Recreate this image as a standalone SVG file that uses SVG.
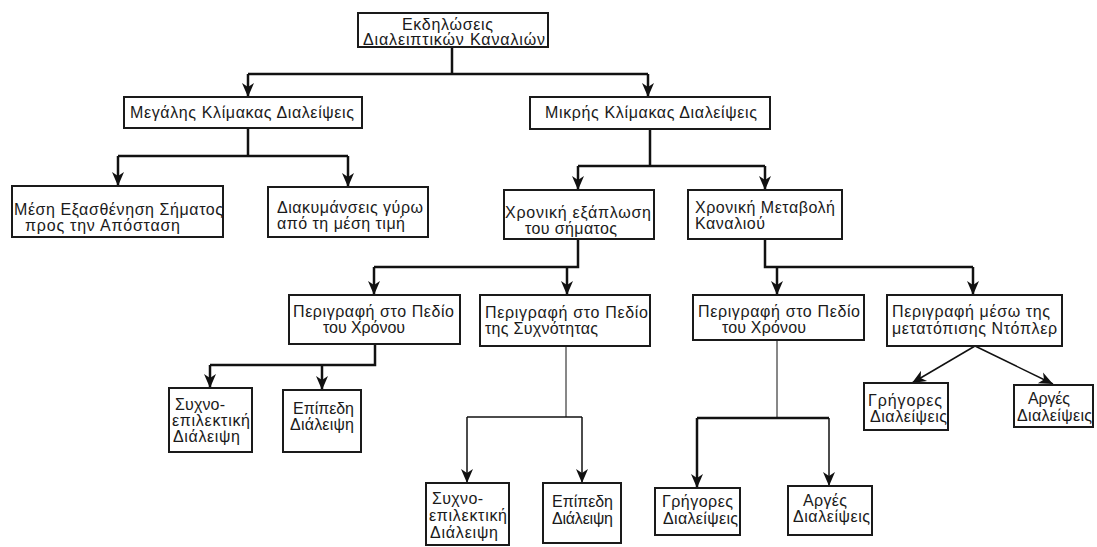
<svg xmlns="http://www.w3.org/2000/svg" width="1097" height="547" viewBox="0 0 1097 547">
  <style>
    .box { fill: #ffffff; stroke: #1a1a1a; stroke-width: 2; }
    .lbl { font-family: "Liberation Sans", Arial, sans-serif; font-size: 16px; fill: #1a1a1a; }
    .wire { fill: none; stroke: #111111; stroke-width: 2.5; }
    .thin { fill: none; stroke: #111111; stroke-width: 1.5; }
    .hair { fill: none; stroke: #111111; stroke-width: 1; }
  </style>
  <defs>
    <marker id="arr" viewBox="-1 -7 16 14" markerWidth="16" markerHeight="14" refX="14" refY="0" orient="auto" markerUnits="userSpaceOnUse">
      <path d="M0,-6 L14,0 L0,6 L4,0 z" fill="#111111"/>
    </marker>
  </defs>
  <rect width="1097" height="547" fill="#ffffff"/>

  <!-- connectors -->
  <g id="connectors">
    <!-- root -->
    <path class="wire" d="M452,47 V74 M248,74 H648"/>
    <path class="wire" d="M248,74 V97" marker-end="url(#arr)"/>
    <path class="wire" d="M648,74 V97" marker-end="url(#arr)"/>
    <!-- large scale -->
    <path class="wire" d="M248,128 V156 M118,156 H348"/>
    <path class="wire" d="M118,156 V186" marker-end="url(#arr)"/>
    <path class="wire" d="M348,156 V187" marker-end="url(#arr)"/>
    <!-- small scale -->
    <path class="wire" d="M650,129 V166 M578,166 H765"/>
    <path class="wire" d="M578,166 V190" marker-end="url(#arr)"/>
    <path class="wire" d="M765,166 V190" marker-end="url(#arr)"/>
    <!-- time spread -->
    <path class="wire" d="M578,239 V267 H374"/>
    <path class="wire" d="M374,267 V295" marker-end="url(#arr)"/>
    <path class="wire" d="M567,267 V295" marker-end="url(#arr)"/>
    <!-- channel variation -->
    <path class="wire" d="M765,239 V267 H973"/>
    <path class="wire" d="M777,267 V295" marker-end="url(#arr)"/>
    <path class="wire" d="M973,267 V295" marker-end="url(#arr)"/>
    <!-- time domain (left) -->
    <path class="wire" d="M375,344 V365 H210"/>
    <path class="wire" d="M210,365 V388" marker-end="url(#arr)"/>
    <path class="wire" d="M322,365 V390" marker-end="url(#arr)"/>
    <!-- frequency domain -->
    <path class="hair" d="M566,346 V417"/>
    <path class="thin" d="M467,417 H582"/>
    <path class="thin" d="M467,417 V483" marker-end="url(#arr)"/>
    <path class="thin" d="M582,417 V483" marker-end="url(#arr)"/>
    <!-- time domain (right) -->
    <path class="hair" d="M777,340 V418"/>
    <path class="wire" d="M697,418 H829"/>
    <path class="wire" d="M697,418 V488" marker-end="url(#arr)"/>
    <path class="thin" d="M829,418 V486" marker-end="url(#arr)"/>
    <!-- Doppler -->
    <path class="thin" d="M975,346 L912,383" marker-end="url(#arr)"/>
    <path class="thin" d="M975,346 L1053,384" marker-end="url(#arr)"/>
  </g>

  <g id="root">
    <rect class="box" x="358" y="13" width="190" height="34"/>
    <text class="lbl" x="402" y="30" textLength="91" lengthAdjust="spacing">Εκδηλώσεις</text>
    <text class="lbl" x="363" y="45" textLength="182" lengthAdjust="spacing">Διαλειπτικών Καναλιών</text>
  </g>

  <g id="large-scale">
    <rect class="box" x="124" y="97" width="238" height="31"/>
    <text class="lbl" x="130" y="118" textLength="224" lengthAdjust="spacing">Μεγάλης Κλίμακας Διαλείψεις</text>
  </g>

  <g id="small-scale">
    <rect class="box" x="530" y="97" width="240" height="32"/>
    <text class="lbl" x="545" y="118" textLength="212" lengthAdjust="spacing">Μικρής Κλίμακας Διαλείψεις</text>
  </g>

  <g id="mean-attenuation">
    <rect class="box" x="12" y="186" width="211" height="51"/>
    <text class="lbl" x="14" y="215" textLength="209" lengthAdjust="spacing">Μέση Εξασθένηση Σήματος</text>
    <text class="lbl" x="25" y="231" textLength="155" lengthAdjust="spacing">προς την  Απόσταση</text>
  </g>

  <g id="fluctuations">
    <rect class="box" x="268" y="187" width="160" height="50"/>
    <text class="lbl" x="277" y="213" textLength="146" lengthAdjust="spacing">Διακυμάνσεις γύρω</text>
    <text class="lbl" x="277" y="229" textLength="128" lengthAdjust="spacing">από τη μέση τιμή</text>
  </g>

  <g id="time-spread">
    <rect class="box" x="504" y="190" width="150" height="49"/>
    <text class="lbl" x="505" y="218" textLength="146" lengthAdjust="spacing">Χρονική εξάπλωση</text>
    <text class="lbl" x="525" y="234" textLength="92" lengthAdjust="spacing">του σήματος</text>
  </g>

  <g id="channel-variation">
    <rect class="box" x="688" y="190" width="154" height="49"/>
    <text class="lbl" x="695" y="213" textLength="140" lengthAdjust="spacing">Χρονική Μεταβολή</text>
    <text class="lbl" x="695" y="229" textLength="70" lengthAdjust="spacing">Καναλιού</text>
  </g>

  <g id="time-domain-a">
    <rect class="box" x="289" y="295" width="171" height="49"/>
    <text class="lbl" x="293" y="317" textLength="161" lengthAdjust="spacing">Περιγραφή στο Πεδίο</text>
    <text class="lbl" x="323" y="333" textLength="82" lengthAdjust="spacing">του Χρόνου</text>
  </g>

  <g id="frequency-domain">
    <rect class="box" x="480" y="295" width="170" height="51"/>
    <text class="lbl" x="485" y="318" textLength="163" lengthAdjust="spacing">Περιγραφή στο Πεδίο</text>
    <text class="lbl" x="485" y="334" textLength="113" lengthAdjust="spacing">της Συχνότητας</text>
  </g>

  <g id="time-domain-b">
    <rect class="box" x="693" y="295" width="171" height="45"/>
    <text class="lbl" x="698" y="317" textLength="162" lengthAdjust="spacing">Περιγραφή στο Πεδίο</text>
    <text class="lbl" x="722" y="333" textLength="84" lengthAdjust="spacing">του Χρόνου</text>
  </g>

  <g id="doppler">
    <rect class="box" x="887" y="295" width="175" height="51"/>
    <text class="lbl" x="892" y="317" textLength="158" lengthAdjust="spacing">Περιγραφή μέσω της</text>
    <text class="lbl" x="892" y="334" textLength="165" lengthAdjust="spacing">μετατόπισης Ντόπλερ</text>
  </g>

  <g id="selective-a">
    <rect class="box" x="169" y="388" width="83" height="64"/>
    <text class="lbl" x="175" y="410" textLength="50" lengthAdjust="spacing">Συχνο-</text>
    <text class="lbl" x="172" y="426" textLength="78" lengthAdjust="spacing">επιλεκτική</text>
    <text class="lbl" x="173" y="442" textLength="67" lengthAdjust="spacing">Διάλειψη</text>
  </g>

  <g id="flat-a">
    <rect class="box" x="283" y="390" width="78" height="62"/>
    <text class="lbl" x="293" y="414" textLength="61" lengthAdjust="spacing">Επίπεδη</text>
    <text class="lbl" x="290" y="430" textLength="64" lengthAdjust="spacing">Διάλειψη</text>
  </g>

  <g id="selective-b">
    <rect class="box" x="426" y="483" width="83" height="62"/>
    <text class="lbl" x="432" y="504" textLength="51" lengthAdjust="spacing">Συχνο-</text>
    <text class="lbl" x="429" y="521" textLength="78" lengthAdjust="spacing">επιλεκτική</text>
    <text class="lbl" x="430" y="538" textLength="68" lengthAdjust="spacing">Διάλειψη</text>
  </g>

  <g id="flat-b">
    <rect class="box" x="543" y="483" width="78" height="60"/>
    <text class="lbl" x="552" y="507" textLength="61" lengthAdjust="spacing">Επίπεδη</text>
    <text class="lbl" x="552" y="524" textLength="61" lengthAdjust="spacing">Διάλειψη</text>
  </g>

  <g id="fast-b">
    <rect class="box" x="655" y="488" width="85" height="47"/>
    <text class="lbl" x="662" y="507" textLength="71" lengthAdjust="spacing">Γρήγορες</text>
    <text class="lbl" x="663" y="524" textLength="75" lengthAdjust="spacing">Διαλείψεις</text>
  </g>

  <g id="slow-b">
    <rect class="box" x="788" y="486" width="84" height="49"/>
    <text class="lbl" x="803" y="506" textLength="44" lengthAdjust="spacing">Αργές</text>
    <text class="lbl" x="793" y="522" textLength="77" lengthAdjust="spacing">Διαλείψεις</text>
  </g>

  <g id="fast-a">
    <rect class="box" x="864" y="383" width="84" height="47"/>
    <text class="lbl" x="868" y="406" textLength="74" lengthAdjust="spacing">Γρήγορες</text>
    <text class="lbl" x="870" y="422" textLength="77" lengthAdjust="spacing">Διαλείψεις</text>
  </g>

  <g id="slow-a">
    <rect class="box" x="1014" y="385" width="79" height="42"/>
    <text class="lbl" x="1028" y="404" textLength="42" lengthAdjust="spacing">Αργές</text>
    <text class="lbl" x="1017" y="421" textLength="75" lengthAdjust="spacing">Διαλείψεις</text>
  </g>
</svg>
